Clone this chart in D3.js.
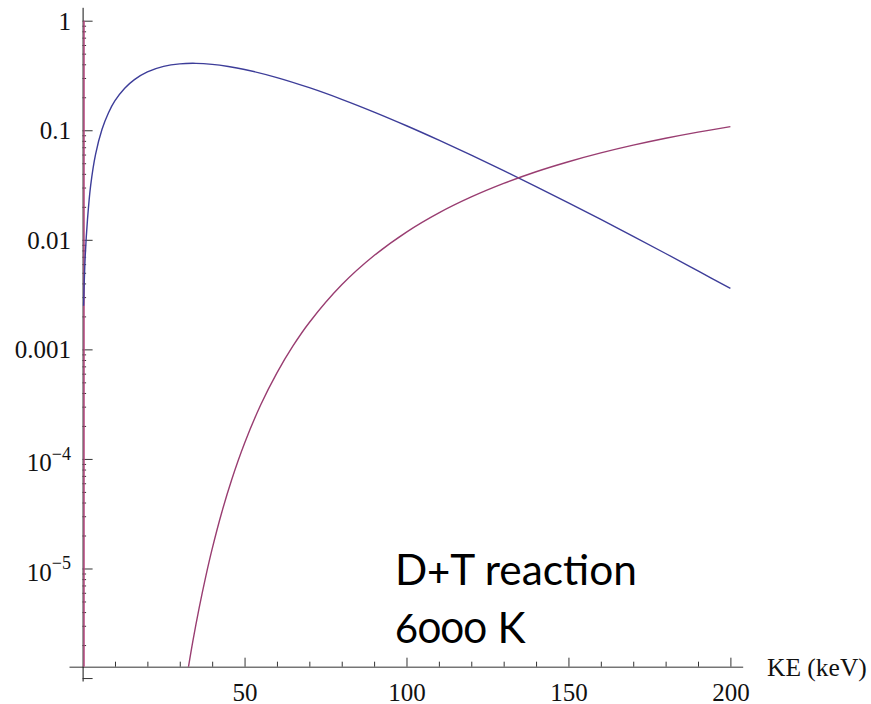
<!DOCTYPE html>
<html><head><meta charset="utf-8">
<script src="https://cdn.jsdelivr.net/npm/d3@7"></script>
<style>
html,body{margin:0;padding:0;background:#fff;}
svg{display:block;}
</style></head><body>
<svg id="chart" width="871" height="704"></svg>
<script>
// Velocity-distribution curve (blue) and reaction curve (purple) vs kinetic energy, keV
const blueKE  = [0.3, 0.8, 1.5, 2.5, 4, 6, 8, 10, 13, 16, 20, 25, 30, 35, 40, 45, 50, 60, 70, 80, 90, 100, 110, 120, 130, 140, 150, 160, 170, 180, 190, 200];
const blueVal = [0.0025, 0.007, 0.0152, 0.0316, 0.0603, 0.102, 0.1447, 0.186, 0.242, 0.29, 0.341, 0.3826, 0.4036, 0.408, 0.3996, 0.382, 0.3588, 0.3027, 0.2445, 0.1916, 0.1465, 0.1099, 0.0812, 0.0593, 0.0428, 0.0306, 0.02174, 0.01533, 0.01075, 0.0075, 0.0052, 0.0036];

const purpleKE  = [32.5, 34, 36, 38, 40, 43, 46, 50, 55, 60, 65, 70, 80, 90, 100, 110, 120, 130, 140, 150, 160, 170, 180, 190, 200];
const purpleVal = [1.17e-6, 2.14e-6, 4.4e-6, 8.4e-6, 1.51e-5, 3.28e-5, 6.43e-5, 1.39e-4, 3.12e-4, 6.1e-4, 1.08e-3, 1.76e-3, 3.88e-3, 7.18e-3, 0.01176, 0.0176, 0.0246, 0.0327, 0.0418, 0.0516, 0.0621, 0.0731, 0.0845, 0.0962, 0.108];

// Vertical segment of the purple series at the origin
const spikeKE  = [0.45, 0.45];
const spikeVal = [1, 9.4e-7];

const xMajorTicks = [50, 100, 150, 200];
const xMinorTicks = [10, 20, 30, 40, 60, 70, 80, 90, 110, 120, 130, 140, 160, 170, 180, 190];
const yMajorTicks = [1, 0.1, 0.01, 0.001, 1e-4, 1e-5, 1e-6];
const yTickBase   = ["1", "0.1", "0.01", "0.001", "10", "10", ""];
const yTickExp    = ["", "", "", "", "\u22124", "\u22125", ""];
const xAxisTitle  = "KE (keV)";
const noteLines   = ["D+T reaction", "6000 K"];

const svg = d3.select("#chart");

const x = d3.scaleLinear().domain([-4.2, 203.8]).range([69, 742.7]);
const y = d3.scaleLog().domain([9.4e-7, 1.325]).range([681, 7.3]);
const xAxisAt = 1.27e-6;           // where the horizontal axis crosses
const axisY = y(xAxisAt);

const blueColor = "#3d3d99";
const purpleColor = "#993d71";
const axisColor = "#333";
const serif = "'Liberation Serif', 'Times New Roman', serif";

// minor log ticks 2..9 in each decade
const yMinorTicks = [];
[1e-6, 1e-5, 1e-4, 1e-3, 1e-2, 1e-1].forEach(d => {
  for (let k = 2; k <= 9; k++) yMinorTicks.push(d * k);
});

// horizontal axis
const gx = svg.append("g").attr("transform", `translate(0,${axisY})`);
gx.append("g")
  .call(d3.axisBottom(x).tickValues(xMinorTicks).tickSize(-5).tickSizeOuter(0).tickFormat(""))
  .call(g => g.select(".domain").remove());
gx.append("g")
  .call(d3.axisBottom(x).tickValues(xMajorTicks).tickSize(-9).tickSizeOuter(0).tickPadding(16.5).tickFormat(d3.format("d")));
gx.selectAll("path,line").attr("stroke", axisColor).attr("stroke-width", 1);
gx.selectAll("text").attr("font-family", serif).attr("font-size", 25).attr("fill", "#111");

// vertical axis
const gy = svg.append("g").attr("transform", `translate(${x(0)},0)`);
gy.append("g")
  .call(d3.axisLeft(y).tickValues(yMinorTicks).tickSize(-3.5).tickSizeOuter(0).tickFormat(""))
  .call(g => g.select(".domain").remove());
gy.append("g")
  .call(d3.axisLeft(y).tickValues(yMajorTicks).tickSize(-10).tickSizeOuter(0).tickFormat(""));
gy.selectAll("path,line").attr("stroke", axisColor).attr("stroke-width", 1);
gy.select(".domain").attr("stroke", "#111");

// vertical axis labels, with superscript exponents
yMajorTicks.forEach((v, i) => {
  if (!yTickBase[i]) return;
  const t = svg.append("text")
    .attr("x", 71)
    .attr("text-anchor", "end")
    .attr("font-family", serif)
    .attr("font-size", 25)
    .attr("fill", "#111");
  if (yTickExp[i]) {
    t.attr("y", y(v) + 12.5);
    t.append("tspan").text(yTickBase[i]);
    t.append("tspan").attr("font-size", 18).attr("dy", -11.5).text(yTickExp[i]);
  } else {
    t.attr("y", y(v) + 9).text(yTickBase[i]);
  }
});

// axis title
svg.append("text")
  .attr("x", 767).attr("y", 676)
  .attr("font-family", serif).attr("font-size", 25.5).attr("fill", "#111")
  .text(xAxisTitle);

// curves, clipped to the plot region above the horizontal axis
svg.append("clipPath").attr("id", "plotClip")
  .append("rect").attr("x", 69).attr("y", 0).attr("width", 680).attr("height", axisY);

const plot = svg.append("g").attr("clip-path", "url(#plotClip)");
const curve = d3.line().x(d => x(d[0])).y(d => y(d[1])).curve(d3.curveCatmullRom.alpha(0.5));
const straight = d3.line().x(d => x(d[0])).y(d => y(d[1]));

plot.append("path")
  .datum(spikeKE.map((k, i) => [k, spikeVal[i]]))
  .attr("d", straight)
  .attr("fill", "none").attr("stroke", "#b8457f").attr("stroke-width", 1.4);

plot.append("path")
  .datum(blueKE.map((k, i) => [k, blueVal[i]]))
  .attr("d", curve)
  .attr("fill", "none").attr("stroke", blueColor).attr("stroke-width", 1.4);

plot.append("path")
  .datum(purpleKE.map((k, i) => [k, purpleVal[i]]))
  .attr("d", curve)
  .attr("fill", "none").attr("stroke", purpleColor).attr("stroke-width", 1.4);

// annotation
const noteFont = "Lato, 'Open Sans', 'Noto Sans', sans-serif";
const note = svg.append("g").attr("font-family", noteFont).attr("fill", "#000")
  .style("font-variant-numeric", "oldstyle-nums")
  .style("font-feature-settings", "'onum' 1");
const l1 = note.append("text").attr("x", 395).attr("y", 585).attr("font-size", 40).text(noteLines[0]);
const fs = 40 * 242 / l1.node().getComputedTextLength();
l1.attr("font-size", fs);
note.append("text").attr("x", 395).attr("y", 643).attr("font-size", fs).text(noteLines[1]);
</script>
</body></html>
